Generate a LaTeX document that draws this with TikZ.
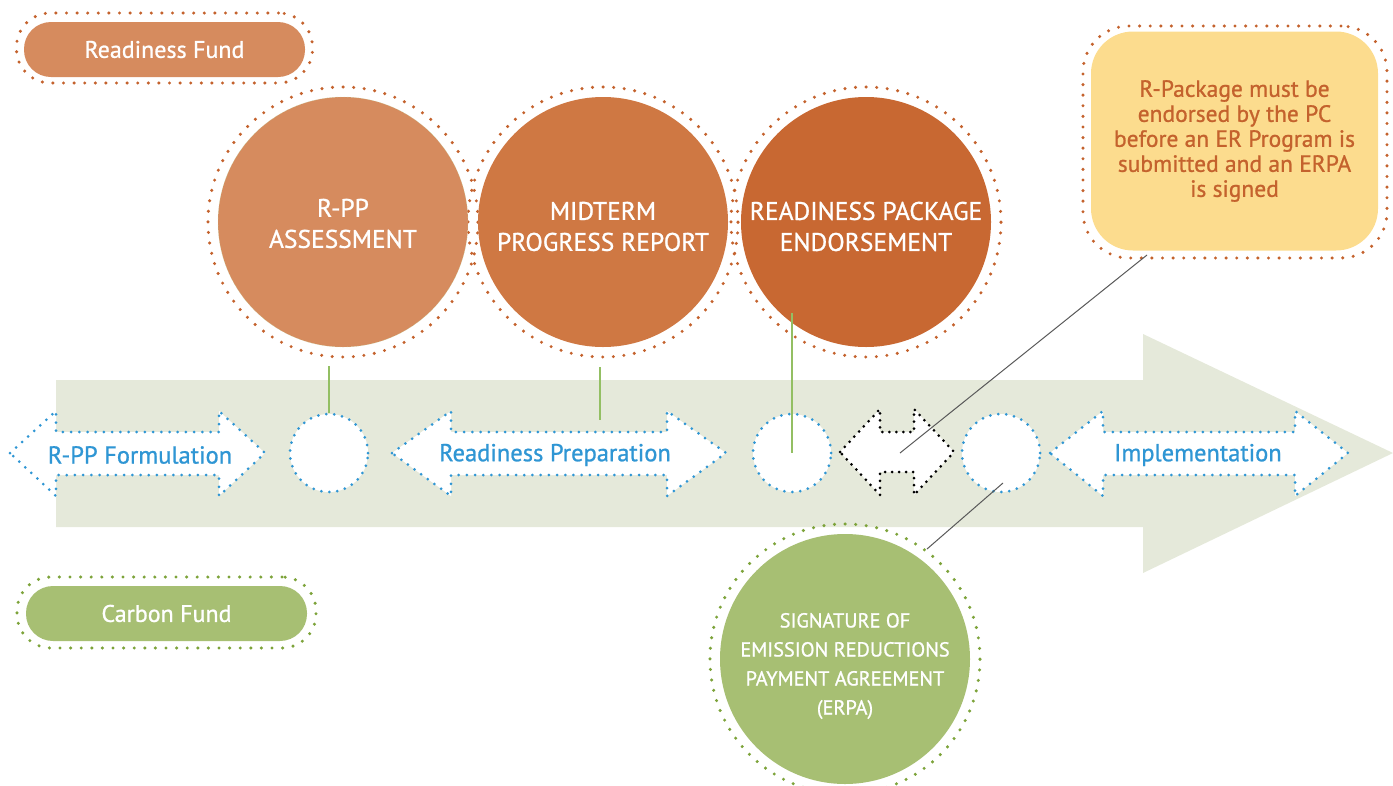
\documentclass[tikz,border=0pt]{standalone}
\usepackage{fontspec}
\setmainfont{PT Sans}[FakeBold=0.9]
\definecolor{bgarrow}{HTML}{E5E9DA}
\definecolor{stepblue}{HTML}{2F96D4}
\definecolor{rppfill}{HTML}{D68B5E}
\definecolor{midfill}{HTML}{CF7843}
\definecolor{pkgfill}{HTML}{C86832}
\definecolor{rfdots}{HTML}{C4622D}
\definecolor{notefill}{HTML}{FCDC8E}
\definecolor{cffill}{HTML}{A7BF73}
\definecolor{cfdots}{HTML}{7DA33A}
\definecolor{linkgreen}{HTML}{93BF63}
\begin{document}
\begin{tikzpicture}[x=1pt,y=-1pt,
                    every node/.style={align=center,inner sep=0pt,text=white}]
  \tikzstyle{phase}=[circle,minimum size=250pt];
  \tikzstyle{phasetext}=[font=\fontsize{25.5}{31}\selectfont];
  \tikzstyle{rfring}=[draw=rfdots,line width=3.4pt,line cap=round,dash pattern=on 0pt off 10.6pt];
  \tikzstyle{cfring}=[draw=cfdots,line width=3.4pt,line cap=round,dash pattern=on 0pt off 10.6pt];
  \tikzstyle{gate}=[circle,minimum size=78pt,fill=white,draw=stepblue,line width=3pt,line cap=round,dash pattern=on 0pt off 8pt];
  \tikzstyle{stepline}=[fill=white,draw=stepblue,line width=3pt,line cap=round,dash pattern=on 0pt off 8.2pt];
  \tikzstyle{steptext}=[text=stepblue,font=\fontsize{24.5}{28}\selectfont];
  \tikzstyle{fund}=[rounded corners=27pt,minimum width=281pt,minimum height=55pt,font=\fontsize{24}{28}\selectfont];
  \tikzstyle{link}=[linkgreen,line width=1.2pt];
  \tikzstyle{pointer}=[black!65,line width=1pt];
  \useasboundingbox (0,0) rectangle (1393,785);
  % big timeline arrow
  \fill[bgarrow] (56,380) -- (1143,380) -- (1143,334) -- (1393,453)
                 -- (1143,573) -- (1143,527) -- (56,527) -- cycle;
  % funds
  \node[fund,rfring,minimum width=296pt,minimum height=70pt,rounded corners=34pt] at (164.5,48) {};
  \node[fund,fill=rppfill] (rfund) at (164.5,49.5) {Readiness Fund};
  \node[fund,cfring,minimum width=299pt,minimum height=71pt,rounded corners=34pt] at (166.5,612.5) {};
  \node[fund,fill=cffill] (cfund) at (166.5,613.5) {Carbon Fund};
  % milestones
  \draw[rfring] (343,222) circle (135pt);
  \draw[rfring] (603,222) circle (135pt);
  \draw[rfring] (866,222) circle (135pt);
  \node[phase,fill=rppfill,draw=linkgreen!60,densely dotted,thin,
        label={[phasetext,yshift=-1.5pt]center:{R-PP\\ASSESSMENT}}] (rppass) at (343,222) {};
  \node[phase,fill=midfill,
        label={[phasetext,yshift=-4.5pt]center:{MIDTERM\\PROGRESS REPORT}}] (midterm) at (603,222) {};
  \node[phase,fill=pkgfill,
        label={[phasetext,yshift=-4.5pt]center:{READINESS PACKAGE\\ENDORSEMENT}}] (package) at (866,222) {};
  \draw[cfring] (845,659) circle (135pt);
  \node[phase,fill=cffill,
        label={[font=\fontsize{20.3}{29}\selectfont,yshift=-7pt]center:{SIGNATURE OF\\EMISSION REDUCTIONS\\PAYMENT AGREEMENT\\(ERPA)}}]
    (erpa) at (845,659) {};
  % note
  \node[rfring,minimum width=304pt,minimum height=232pt,rounded corners=46pt] at (1235,142) {};
  \node[fill=notefill,rounded corners=42pt,minimum width=287pt,minimum height=219pt,
        text=rfdots,font=\fontsize{23.5}{25}\selectfont] (note) at (1234.5,141)
    {R-Package must be\\endorsed by the PC\\before an ER Program is\\submitted and an ERPA\\is signed};
  % stages
  \foreach \a/\b/\h in {10/265/46,392/726/59,1050/1348/53}
    \draw[stepline] (\a,453) -- (\a+\h,411) -- (\a+\h,432) -- (\b-\h,432) -- (\b-\h,411)
      -- (\b,453) -- (\b-\h,496) -- (\b-\h,475) -- (\a+\h,475) -- (\a+\h,496) -- cycle;
  \draw[fill=white,draw=black,line width=3pt,line cap=round,dash pattern=on 0pt off 7pt]
    (840,452) -- (880,409) -- (880,432) -- (914,432) -- (914,409) -- (954,452)
    -- (914,495) -- (914,472) -- (880,472) -- (880,495) -- cycle;
  \node[steptext] (rppform) at (140,455) {R-PP Formulation};
  \node[steptext] (readyprep) at (555,455) {Readiness Preparation};
  \node[steptext] (implem) at (1198,455) {Implementation};
  \node[gate] (gate1) at (329,453) {};
  \node[gate] (gate2) at (792,453) {};
  \node[gate] (gate3) at (1001,453) {};
  % links
  \coordinate (rppfoot) at (329,366);
  \coordinate (midfoot) at (600,367);
  \coordinate (midend) at (600,420);
  \coordinate (pkgfoot) at (792,313);
  \coordinate (swap) at (900,453);
  \coordinate (notefoot) at (1147,255);
  \coordinate (erpatop) at (927,549);
  \coordinate (signpt) at (1003,483);
  \draw[link] (gate1) -- (rppfoot);
  \draw[link] (midfoot) -- (midend);
  \draw[link] (pkgfoot) -- (gate2.center);
  \draw[pointer] (notefoot) -- (swap);
  \draw[pointer] (signpt) -- (erpatop);
\end{tikzpicture}
\end{document}
